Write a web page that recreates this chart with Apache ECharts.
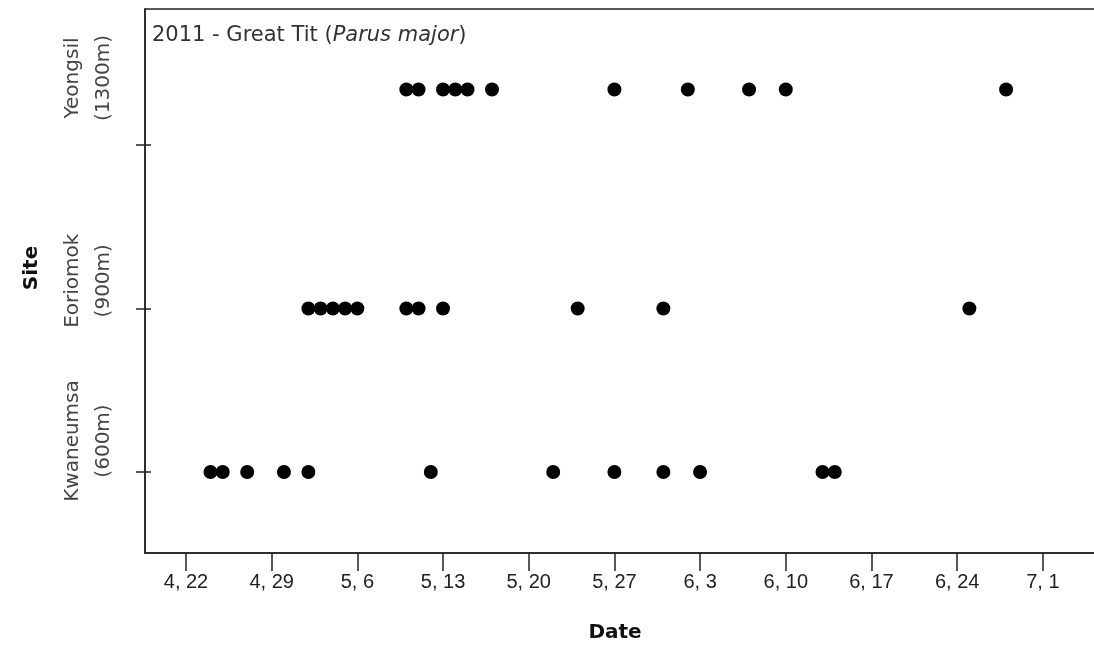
<!DOCTYPE html>
<html>
<head>
<meta charset="utf-8">
<script src="https://cdn.jsdelivr.net/npm/echarts@6/dist/echarts.min.js"></script>
<style>
html,body{margin:0;padding:0;background:#fff;}
#chart{width:1094px;height:648px;}
</style>
</head>
<body>
<div id="chart"></div>
<script>
// ---- data ----
const sites = ['Kwaneumsa', 'Eoriomok', 'Yeongsil'];
const elevations = ['(600m)', '(900m)', '(1300m)'];
const siteY = [1, 2, 3.34];
const siteTicks = [1, 2, 3];
const kwaneumsaDates = ['04-24','04-25','04-27','04-30','05-02','05-12','05-22','05-27','05-31','06-03','06-13','06-14'];
const eoriomokDates  = ['05-02','05-03','05-04','05-05','05-06','05-10','05-11','05-13','05-24','05-31','06-25'];
const yeongsilDates  = ['05-10','05-11','05-13','05-14','05-15','05-17','05-27','06-02','06-07','06-10','06-28'];
const dateTicks = ['04-22','04-29','05-06','05-13','05-20','05-27','06-03','06-10','06-17','06-24','07-01'];
const year = 2011;
const titleMain = '2011 - Great Tit (';
const titleItalic = 'Parus major';
const titleEnd = ')';

// label placement (layout, not data): upward lift of each site label, in axis units
const labelLift = [0.19, 0.17, 0.07];

function doy(s) {
  const [m, d] = s.split('-').map(Number);
  const t = Date.UTC(year, m - 1, d) - Date.UTC(year, 0, 0);
  return Math.round(t / 86400000);
}
function fmtDoy(v) {
  const dt = new Date(Date.UTC(year, 0, 0) + Math.round(v) * 86400000);
  return (dt.getUTCMonth() + 1) + ', ' + dt.getUTCDate();
}
const groups = [kwaneumsaDates, eoriomokDates, yeongsilDates];
const series = groups.map((g, i) => ({
  type: 'scatter',
  name: sites[i],
  symbol: 'circle',
  symbolSize: 14,
  itemStyle: { color: '#000', opacity: 1 },
  data: g.map(s => [doy(s), siteY[i]]),
  z: 5
}));
const labelPos = siteY.map((v, i) => +(v + labelLift[i]).toFixed(4));

const chart = echarts.init(document.getElementById('chart'));
const axisColor = '#222';
chart.setOption({
  animation: false,
  backgroundColor: '#fff',
  title: {
    left: 147, top: 20,
    text: '{n|' + titleMain + '}{i|' + titleItalic + '}{n|' + titleEnd + '}',
    textStyle: {
      fontWeight: 'normal',
      rich: {
        n: { fontFamily: 'DejaVu Sans', fontSize: 21, color: '#333', fontWeight: 'normal' },
        i: { fontFamily: 'DejaVu Sans', fontSize: 21, color: '#333', fontWeight: 'normal', fontStyle: 'italic' }
      }
    }
  },
  grid: {
    left: 145, width: 960, top: 9, bottom: 95,
    show: true, borderColor: axisColor, borderWidth: 1.5,
    containLabel: false,
    outerBoundsMode: 'none'
  },
  xAxis: {
    type: 'value',
    min: 108.65, max: 187.08,
    name: 'Date', nameLocation: 'middle', nameGap: 70,
    nameTextStyle: { fontFamily: 'DejaVu Sans', fontWeight: 'bold', fontSize: 20, color: '#111', padding: [0, 20, 0, 0] },
    splitLine: { show: false },
    axisLine: { show: true, lineStyle: { color: axisColor, width: 1.5 } },
    axisTick: { show: true, length: 18, lineStyle: { color: axisColor, width: 1.5 },
      customValues: dateTicks.map(doy) },
    axisLabel: { margin: 19, fontFamily: 'Liberation Sans', fontSize: 20, color: '#222',
      hideOverlap: false,
      customValues: dateTicks.map(doy), formatter: v => fmtDoy(v) }
  },
  yAxis: [{
    type: 'value',
    min: 0.505, max: 3.832,
    name: 'Site', nameLocation: 'middle', nameGap: 103, nameRotate: 90,
    nameTextStyle: { fontFamily: 'DejaVu Sans', fontWeight: 'bold', fontSize: 20, color: '#111', padding: [0, 0, 0, 26] },
    splitLine: { show: false },
    axisLine: { show: true, lineStyle: { color: axisColor, width: 1.5 } },
    axisTick: { show: true, length: 9, lineStyle: { color: axisColor, width: 1.5 }, customValues: siteTicks },
    axisLabel: {
      rotate: 90, margin: 26,
      hideOverlap: false,
      customValues: labelPos,
      fontFamily: 'DejaVu Sans', fontSize: 20, color: '#444', lineHeight: 31,
      formatter: v => {
        const i = labelPos.indexOf(v);
        if (i < 0) return '';
        return sites[i] + '\n' + elevations[i];
      }
    }
  }, {
    type: 'value',
    position: 'left',
    min: 0.505, max: 3.832,
    splitLine: { show: false },
    axisLine: { show: false },
    axisLabel: { show: false },
    axisTick: { show: true, inside: true, length: 6, lineStyle: { color: axisColor, width: 1.5 }, customValues: siteTicks }
  }],
  series: series
});
</script>
</body>
</html>
